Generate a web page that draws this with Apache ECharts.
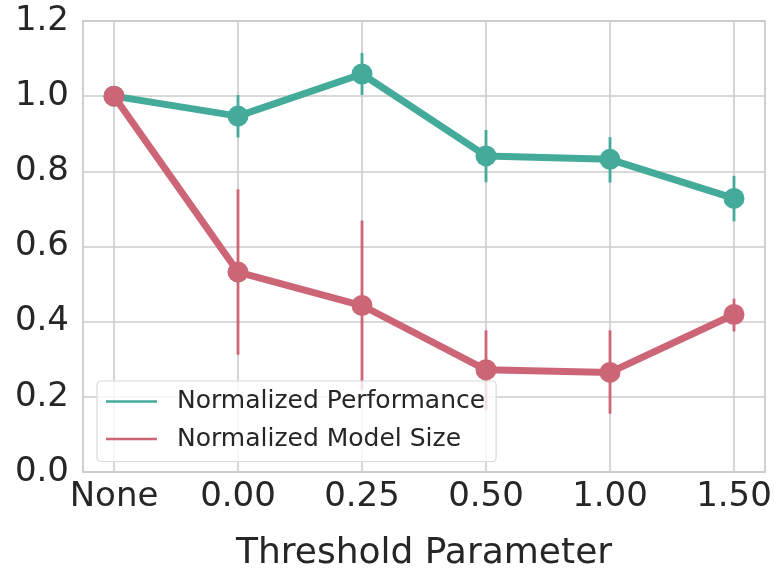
<!DOCTYPE html>
<html>
<head>
<meta charset="utf-8">
<script src="https://cdn.jsdelivr.net/npm/echarts@6/dist/echarts.min.js"></script>
<style>html,body{margin:0;padding:0;background:#fff}#c{width:774px;height:568px}</style>
</head>
<body>
<div id="c"></div>
<script>
const categories = ['None', '0.00', '0.25', '0.50', '1.00', '1.50'];
const yTicks = [0, 0.2, 0.4, 0.6, 0.8, 1.0, 1.2];
const perfMean = [1.0, 0.947, 1.059, 0.841, 0.832, 0.728];
const perfLow  = [1.0, 0.890, 1.003, 0.771, 0.770, 0.667];
const perfHigh = [1.0, 1.003, 1.115, 0.910, 0.891, 0.788];
const sizeMean = [1.0, 0.532, 0.443, 0.272, 0.265, 0.419];
const sizeLow  = [1.0, 0.312, 0.219, 0.165, 0.155, 0.374];
const sizeHigh = [1.0, 0.752, 0.669, 0.377, 0.377, 0.461];

const TEAL = '#44AA99', ROSE = '#CC6677', TXT = '#262626', GRID = '#cccccc';
const FONT = 'DejaVu Sans';

const idx = categories.map((c, i) => i);
const pts = arr => arr.map((v, i) => [i, v]);
const errData = (lo, hi) => lo.map((v, i) => [i, v, hi[i]]);

function errRender(color) {
  return function (params, api) {
    const a = api.coord([api.value(0), api.value(1)]);
    const b = api.coord([api.value(0), api.value(2)]);
    return { type: 'line', shape: { x1: a[0], y1: a[1], x2: b[0], y2: b[1] },
             style: { stroke: color, lineWidth: 2.8 } };
  };
}

const chart = echarts.init(document.getElementById('c'), null, { renderer: 'canvas' });
chart.setOption({
  animation: false,
  backgroundColor: '#fff',
  textStyle: { fontFamily: FONT, color: TXT },
  grid: { left: 83, top: 21, width: 682, height: 451, show: true, borderColor: GRID, borderWidth: 1.8,
          containLabel: false, outerBoundsMode: 'none' },
  xAxis: {
    type: 'value', min: -0.25, max: 5.25,
    name: 'Threshold Parameter', nameLocation: 'middle', nameGap: 64,
    nameTextStyle: { fontSize: 36, color: TXT, fontFamily: FONT },
    axisLine: { show: false }, axisTick: { show: false }, splitLine: { show: false },
    axisLabel: { customValues: idx, formatter: v => categories[Math.round(v)] ?? '',
                 fontSize: 34, color: TXT, fontFamily: FONT, margin: 8 }
  },
  yAxis: {
    type: 'value', min: 0, max: 1.2, interval: 0.2,
    axisLine: { show: false }, axisTick: { show: false },
    splitLine: { lineStyle: { color: GRID, width: 1.6 } },
    axisLabel: { formatter: v => v.toFixed(1), fontSize: 34, color: TXT, fontFamily: FONT, margin: 14 }
  },
  legend: {
    left: 97, top: 381, orient: 'vertical', z: 20,
    data: [{ name: 'Normalized Performance', icon: 'rect' }, { name: 'Normalized Model Size', icon: 'rect' }],
    itemWidth: 51, itemHeight: 2.5, itemGap: 12.5,
    textStyle: { fontSize: 25, color: TXT, fontFamily: FONT, padding: [0, 0, 0, 15], lineHeight: 24 },
    backgroundColor: 'rgba(255,255,255,0.8)', borderColor: '#d9d9d9', borderWidth: 1.2, borderRadius: 4,
    padding: [8, 11, 10, 9]
  },
  series: [
    { type: 'line', name: '_grid', data: [], silent: true, z: 0,
      markLine: { silent: true, z: 0, symbol: 'none', label: { show: false },
                  lineStyle: { color: GRID, width: 1.6, type: 'solid' },
                  data: idx.map(i => ({ xAxis: i })) } },
    { type: 'custom', name: 'perfErr', renderItem: errRender(TEAL), data: errData(perfLow, perfHigh), z: 2, silent: true },
    { type: 'line', name: 'Normalized Performance', data: pts(perfMean), color: TEAL,
      lineStyle: { width: 7, color: TEAL }, symbol: 'circle', symbolSize: 21, showSymbol: true,
      itemStyle: { color: TEAL }, z: 3 },
    { type: 'custom', name: 'sizeErr', renderItem: errRender(ROSE), data: errData(sizeLow, sizeHigh), z: 4, silent: true },
    { type: 'line', name: 'Normalized Model Size', data: pts(sizeMean), color: ROSE,
      lineStyle: { width: 7, color: ROSE }, symbol: 'circle', symbolSize: 21, showSymbol: true,
      itemStyle: { color: ROSE }, z: 5 }
  ]
});
</script>
</body>
</html>
